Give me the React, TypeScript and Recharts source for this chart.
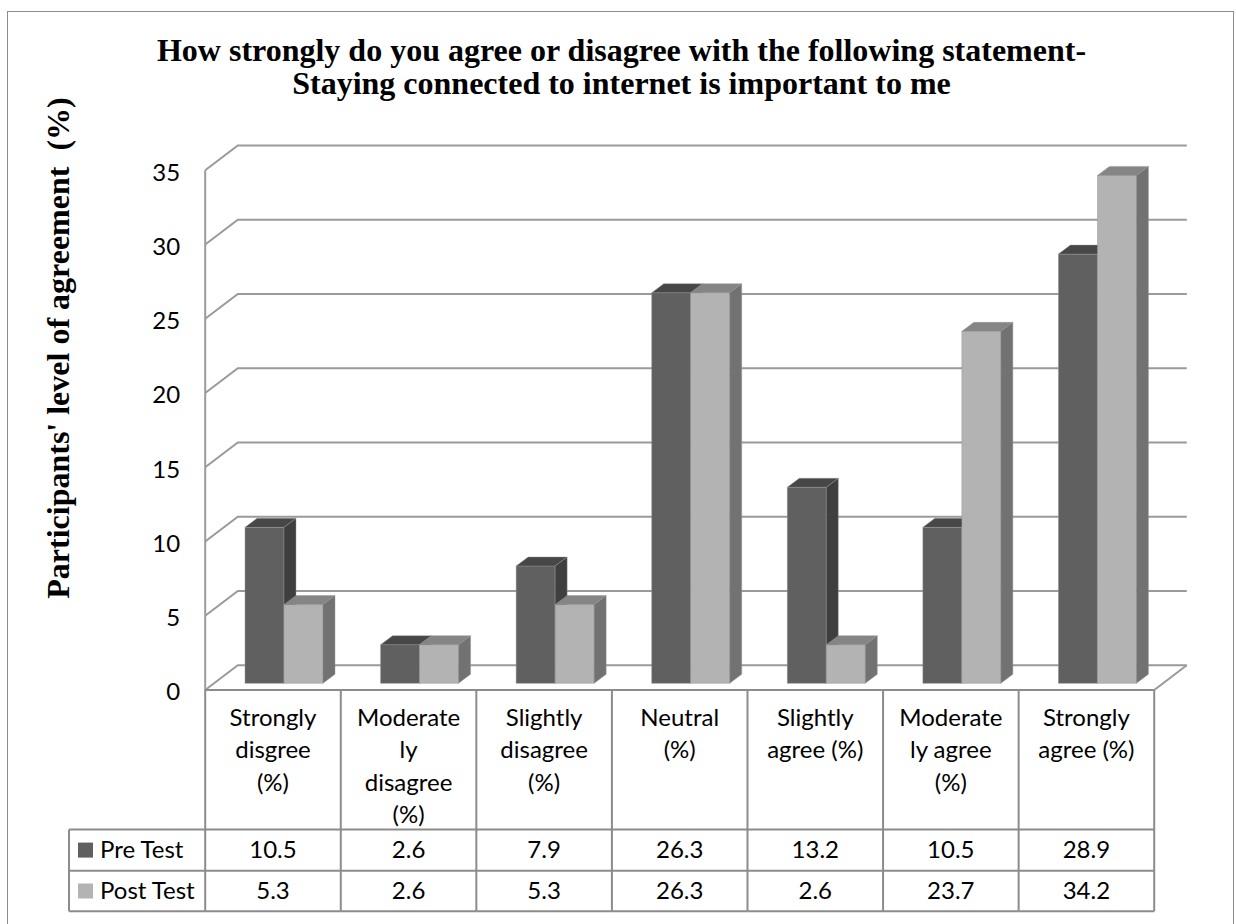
import React from "react";
import { BarChart, Bar, XAxis, YAxis, CartesianGrid } from "recharts";

// ---- data ----
const categories = [
  "Strongly disgree (%)",
  "Moderately disagree (%)",
  "Slightly disagree (%)",
  "Neutral (%)",
  "Slightly agree (%)",
  "Moderately agree (%)",
  "Strongly agree (%)",
];
// wrapped header text for each table column
const categoryLines = [
  ["Strongly", "disgree", "(%)"],
  ["Moderate", "ly", "disagree", "(%)"],
  ["Slightly", "disagree", "(%)"],
  ["Neutral", "(%)"],
  ["Slightly", "agree (%)"],
  ["Moderate", "ly agree", "(%)"],
  ["Strongly", "agree (%)"],
];
const preTest = [10.5, 2.6, 7.9, 26.3, 13.2, 10.5, 28.9];
const postTest = [5.3, 2.6, 5.3, 26.3, 2.6, 23.7, 34.2];
const seriesNames = ["Pre Test", "Post Test"];
const yTicks = [0, 5, 10, 15, 20, 25, 30, 35];
const titleLines = [
  "How strongly do you agree or disagree with the following statement-",
  "Staying connected to internet is important to me",
];
const yAxisTitle = "Participants' level of agreement  (%)";

const data = categories.map((category, i) => ({
  category,
  pre: preTest[i],
  post: postTest[i],
}));

// ---- layout ----
const W = 1236;
const H = 924;
const PLOT = { left: 216, right: 1165, top: 163.5, bottom: 683.3 };
const Y_AXIS_W = 60;
const X_AXIS_H = 20;
const FRONT = { dx: -10.8, dy: 6.7 }; // bar plane -> front edge of the walls/floor
const DEPTH = { dx: 32.6, dy: -24.7 }; // front edge -> back wall
const BOX = { dx: 12, dy: 9 }; // depth of each column
const TABLE = { header: 829.5, pre: 870.7, post: 911.3, legendLeft: 69 };
const LINE = "#8c8c8c";
const GRID = "#9a9a9a";
const FONT = "Lato, 'Open Sans', sans-serif";
const FONT_SIZE = 24;
const SERIF = "'Liberation Serif', 'Times New Roman', serif";

const PALETTE = {
  pre: { front: "#606060", top: "#474747", side: "#3f3f3f" },
  post: { front: "#b3b3b3", top: "#858585", side: "#727272" },
};

type Face = { front: string; top: string; side: string };

// column drawn as a box: front face, top and right side
const Box3D = (props: any, palette: Face) => {
  const { x, y, width, height } = props;
  if (!height || height <= 0) return <g />;
  const { dx, dy } = BOX;
  const edge = { stroke: "rgba(150,150,150,0.55)", strokeWidth: 0.8 };
  return (
    <g>
      <rect x={x} y={y} width={width} height={height} fill={palette.front} {...edge} />
      <polygon
        points={`${x},${y} ${x + dx},${y - dy} ${x + width + dx},${y - dy} ${x + width},${y}`}
        fill={palette.top}
        {...edge}
      />
      <polygon
        points={`${x + width},${y} ${x + width + dx},${y - dy} ${x + width + dx},${y + height - dy} ${x + width},${y + height}`}
        fill={palette.side}
        {...edge}
      />
    </g>
  );
};

// gridline on the left wall + back wall; the zero line also draws the floor
const WallLine = (props: any) => {
  const { x1, x2, y1, index } = props;
  const fx = x1 + FRONT.dx;
  const fy = y1 + FRONT.dy;
  const bx = fx + DEPTH.dx;
  const by = fy + DEPTH.dy;
  const rx = x2 + FRONT.dx;
  const isFloor = Math.abs(y1 - PLOT.bottom) < 0.5;
  return (
    <g key={`wall-${index}`}>
      <polyline
        points={`${fx},${fy} ${bx},${by} ${rx + DEPTH.dx},${by}`}
        fill="none"
        stroke={GRID}
        strokeWidth={2}
      />
      {isFloor && (
        <>
          <polyline
            points={`${fx},${fy} ${rx},${fy} ${rx + DEPTH.dx},${by}`}
            fill="none"
            stroke={GRID}
            strokeWidth={2}
          />
          <line x1={fx} y1={PLOT.top + FRONT.dy} x2={fx} y2={fy} stroke={GRID} strokeWidth={2} />
        </>
      )}
    </g>
  );
};

const YTick = (props: any) => {
  const { y, payload } = props;
  const fx = PLOT.left + FRONT.dx;
  return (
    <text
      x={fx - 25}
      y={y + FRONT.dy + 10.3}
      textAnchor="end"
      fontFamily={FONT}
      fontSize={FONT_SIZE}
      fill="#000"
    >
      {payload.value}
    </text>
  );
};

// one column of the data table under the chart
const TableColumn = (props: any) => {
  const { x } = props;
  const index: number = props.index ?? props.payload?.index ?? 0;
  const half = (PLOT.right - PLOT.left) / categories.length / 2;
  const cx = x + FRONT.dx;
  const left = cx - half;
  const right = cx + half;
  const top = PLOT.bottom + FRONT.dy;
  const rows = [top, TABLE.header, TABLE.pre, TABLE.post];
  const line = { stroke: LINE, strokeWidth: 2 };
  const text = { fontFamily: FONT, fontSize: FONT_SIZE, fill: "#000", textAnchor: "middle" as const };
  const preMid = (TABLE.header + TABLE.pre) / 2;
  const postMid = (TABLE.pre + TABLE.post) / 2;
  return (
    <g>
      {rows.map((ry, i) => (
        <line key={`h${i}`} x1={left} y1={ry} x2={right} y2={ry} {...line} />
      ))}
      <line x1={left} y1={top} x2={left} y2={TABLE.post} {...line} />
      {index === categories.length - 1 && (
        <line x1={right} y1={top} x2={right} y2={TABLE.post} {...line} />
      )}
      {categoryLines[index].map((t, i) => (
        <text key={`c${i}`} x={cx} y={top + 36 + i * 32.3} {...text}>
          {t}
        </text>
      ))}
      <text x={cx} y={preMid + 7.5} {...text}>
        {preTest[index].toFixed(1)}
      </text>
      <text x={cx} y={postMid + 8} {...text}>
        {postTest[index].toFixed(1)}
      </text>
      {index === 0 && (
        <g>
          {[TABLE.header, TABLE.pre, TABLE.post].map((ry, i) => (
            <line key={`l${i}`} x1={TABLE.legendLeft} y1={ry} x2={left} y2={ry} {...line} />
          ))}
          <line x1={TABLE.legendLeft} y1={TABLE.header} x2={TABLE.legendLeft} y2={TABLE.post} {...line} />
          {[PALETTE.pre, PALETTE.post].map((p, i) => {
            const mid = i === 0 ? preMid : postMid;
            return (
              <g key={`k${i}`}>
                <rect x={TABLE.legendLeft + 9} y={mid - 7.5} width={15} height={15} fill={p.front} />
                <text
                  x={TABLE.legendLeft + 31}
                  y={mid + 7.5}
                  fontFamily={FONT}
                  fontSize={FONT_SIZE}
                  fill="#000"
                >
                  {seriesNames[i]}
                </text>
              </g>
            );
          })}
        </g>
      )}
    </g>
  );
};

export default function App() {
  return (
    <div style={{ position: "absolute", left: 0, top: 0, width: W, height: H, overflow: "hidden", background: "#fff" }}>
      <div
        style={{
          position: "absolute",
          left: 7,
          top: 11,
          width: 1227,
          height: H - 11,
          boxSizing: "border-box",
          borderLeft: `1.5px solid ${LINE}`,
          borderTop: `1.5px solid ${LINE}`,
          borderRight: `1.5px solid ${LINE}`,
        }}
      />
      <BarChart
        width={W}
        height={H}
        data={data}
        barGap={0}
        barSize={39}
        margin={{
          top: PLOT.top,
          right: W - PLOT.right,
          bottom: H - PLOT.bottom - X_AXIS_H,
          left: PLOT.left - Y_AXIS_W,
        }}
        style={{ position: "absolute", left: 0, top: 0 }}
      >
        <CartesianGrid vertical={false} horizontal={(p: any) => WallLine(p)} />
        <XAxis
          dataKey="category"
          height={X_AXIS_H}
          interval={0}
          axisLine={false}
          tickLine={false}
          tick={(p: any) => <TableColumn {...p} />}
        />
        <YAxis
          width={Y_AXIS_W}
          domain={[0, 35]}
          ticks={yTicks}
          interval={0}
          axisLine={false}
          tickLine={false}
          tick={(p: any) => <YTick {...p} />}
        />
        <Bar dataKey="pre" name={seriesNames[0]} isAnimationActive={false} shape={(p: any) => Box3D(p, PALETTE.pre)} />
        <Bar dataKey="post" name={seriesNames[1]} isAnimationActive={false} shape={(p: any) => Box3D(p, PALETTE.post)} />
      </BarChart>
      <div
        style={{
          position: "absolute",
          left: 0,
          top: 33.7,
          width: 1243,
          textAlign: "center",
          fontFamily: SERIF,
          fontWeight: "bold",
          fontSize: 32,
          lineHeight: "33px",
          color: "#000",
          whiteSpace: "nowrap",
        }}
      >
        {titleLines.map((t) => (
          <div key={t}>{t}</div>
        ))}
      </div>
      <div
        style={{
          position: "absolute",
          left: 57.5 - 320,
          top: 347.5 - 20,
          width: 640,
          height: 40,
          lineHeight: "40px",
          textAlign: "center",
          transform: "rotate(-90deg)",
          fontFamily: SERIF,
          fontWeight: "bold",
          fontSize: 32,
          color: "#000",
          whiteSpace: "pre",
        }}
      >
        {yAxisTitle}
      </div>
    </div>
  );
}
